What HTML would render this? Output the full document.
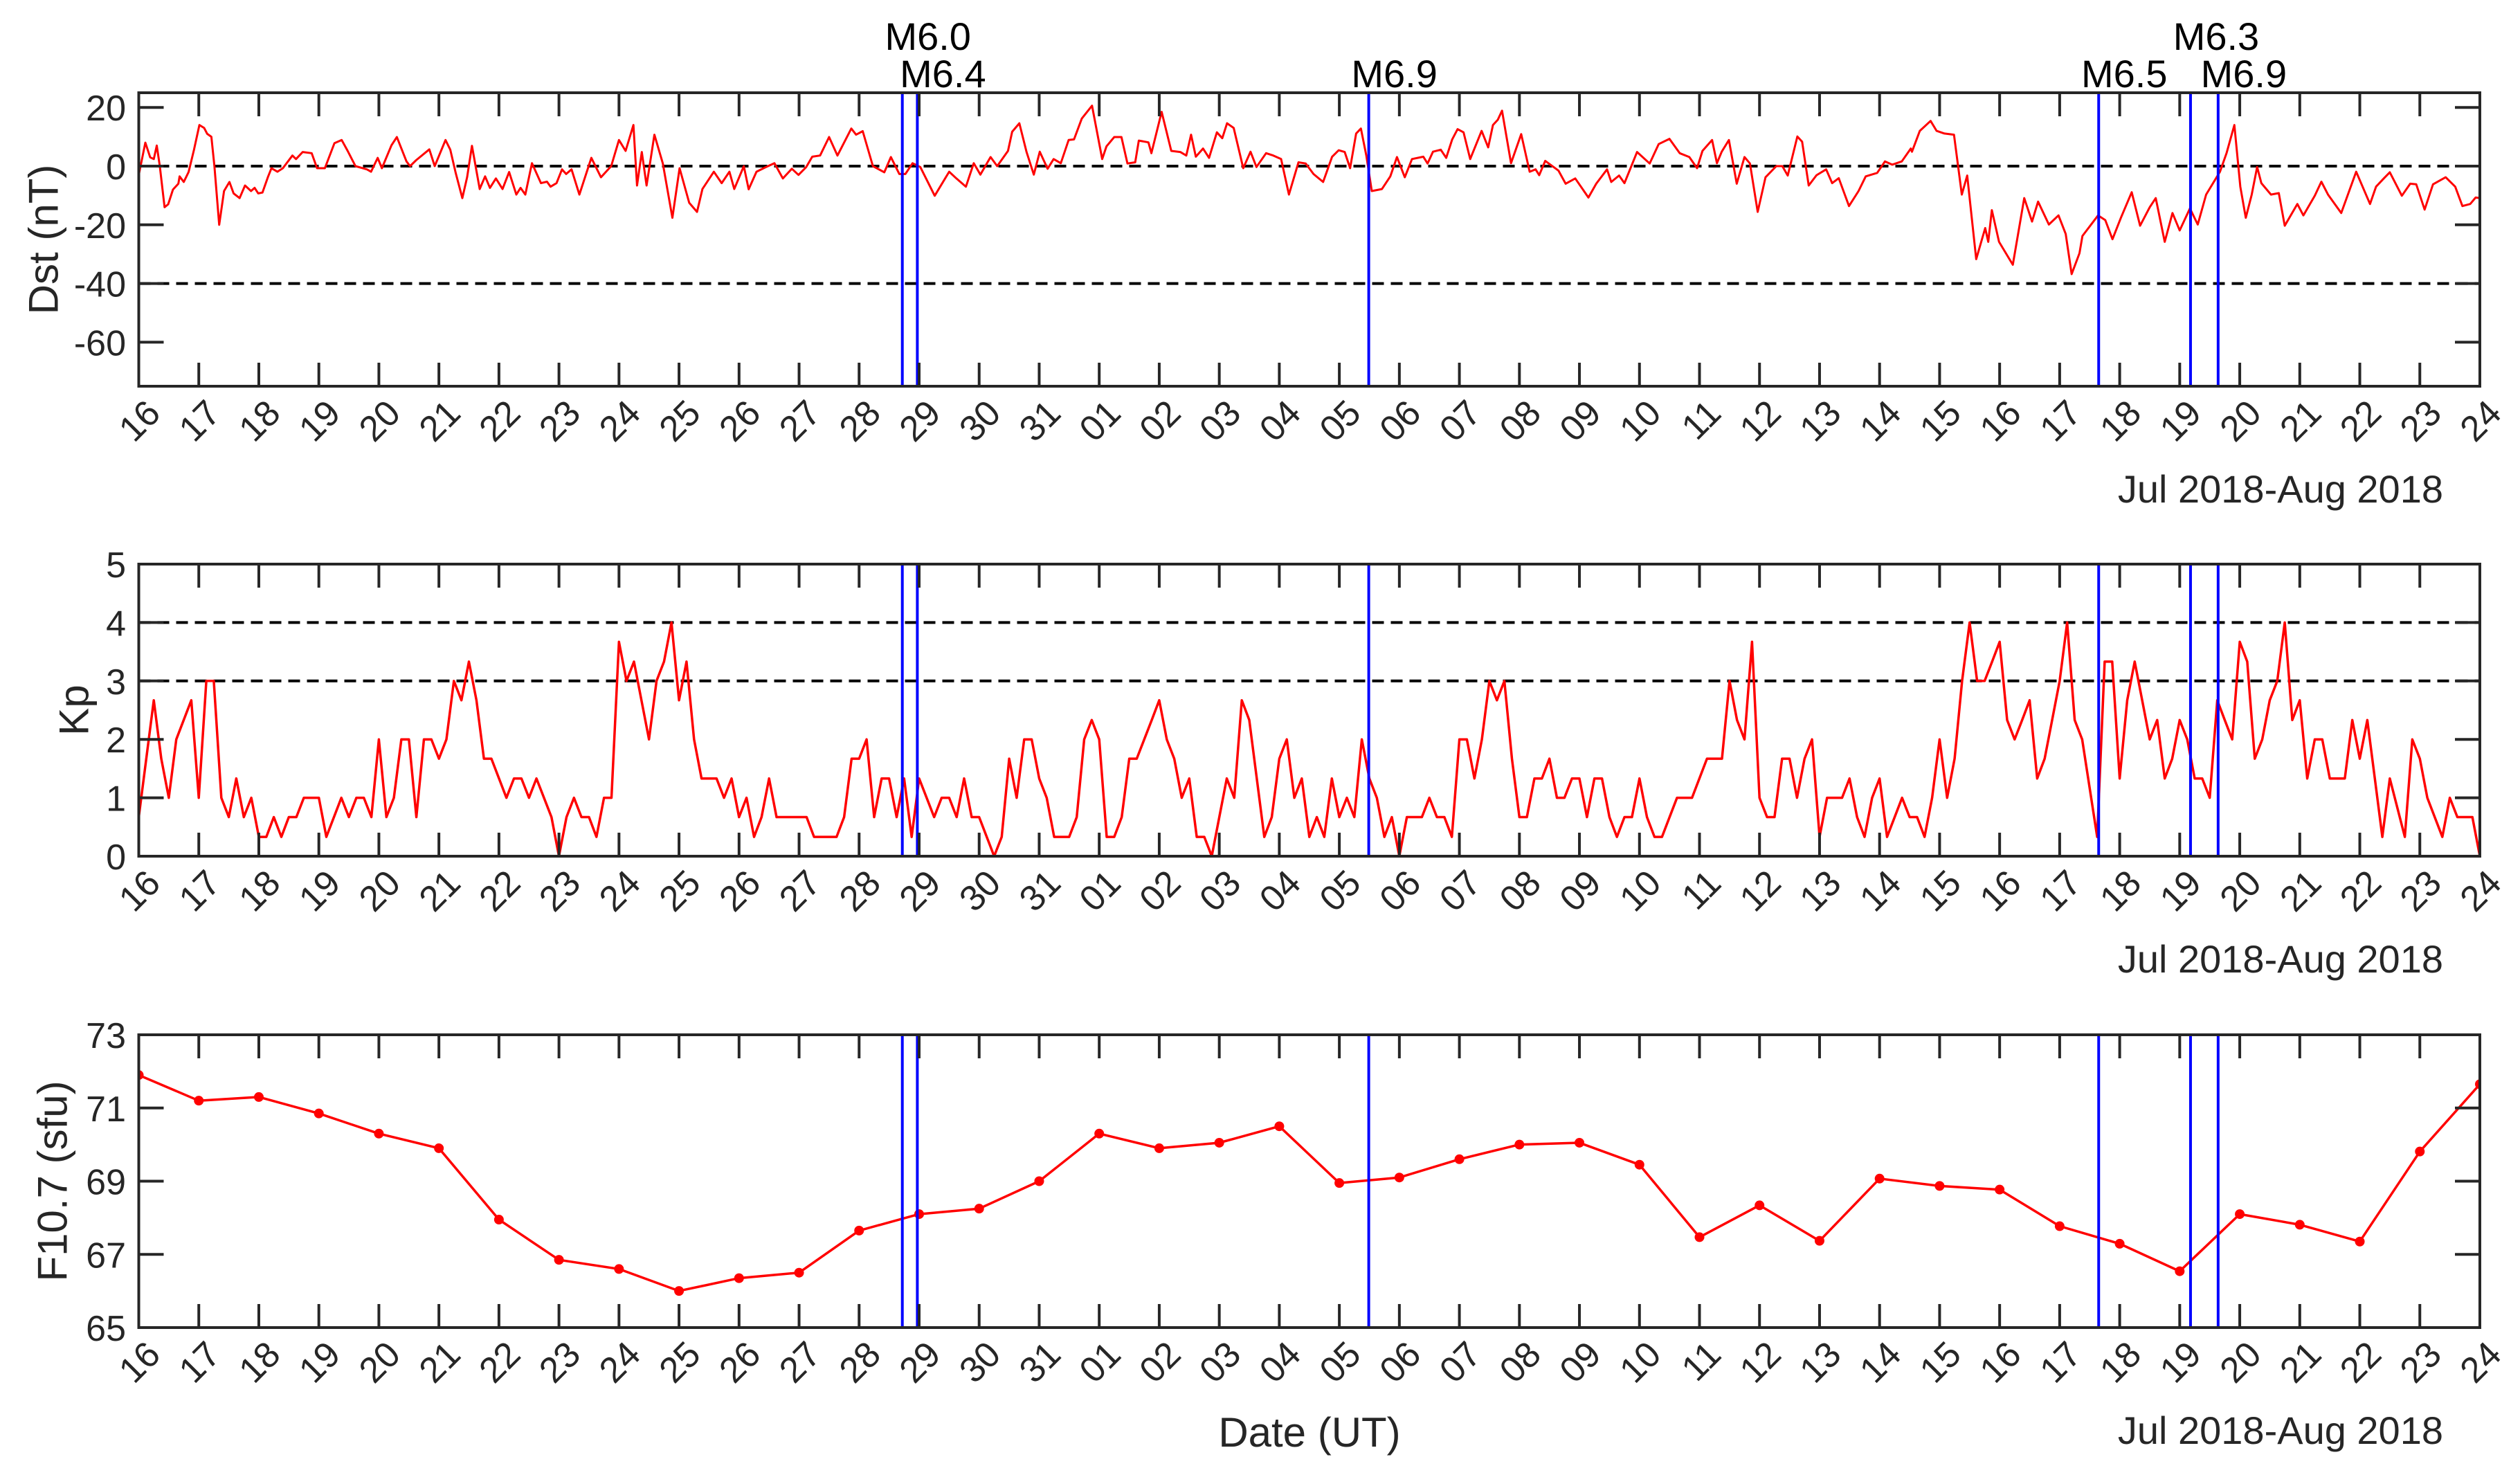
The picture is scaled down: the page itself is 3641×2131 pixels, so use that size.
<!DOCTYPE html>
<html>
<head>
<meta charset="utf-8">
<style>
html,body{margin:0;padding:0;background:#fff;}
svg{display:block;}
text{font-family:"Liberation Sans",Arial,sans-serif;}
</style>
</head>
<body>
<svg id="fig" xmlns="http://www.w3.org/2000/svg" width="3641" height="2131" viewBox="0 0 3641 2131"></svg>
<script>
// ---------- data ----------
const dayLabels = ["16","17","18","19","20","21","22","23","24","25","26","27","28","29","30","31",
  "01","02","03","04","05","06","07","08","09","10","11","12","13","14","15","16","17","18","19","20","21","22","23","24"];

const dstTicks = [20,0,-20,-40,-60];
const kpTicks = [0,1,2,3,4,5];
const f107Ticks = [65,67,69,71,73];

const eventT = [12.72, 12.97, 20.49, 32.65, 34.18, 34.64];
const eventLabels = ["M6.0","M6.4","M6.9","M6.5","M6.3","M6.9"];
const eventRows = [0,1,1,1,0,1];

const dstT = [0,.11,.19,.25,.30,.35,.43,.49,.57,.66,.68,.75,.83,.92,1.01,1.09,1.14,1.21,1.26,1.34,1.42,1.51,1.58,1.68,1.77,1.87,1.93,1.99,2.06,2.15,2.21,2.31,2.40,2.56,2.62,2.73,2.88,2.97,3.10,3.26,3.38,3.48,3.61,3.80,3.87,3.98,4.05,4.21,4.30,4.46,4.52,4.62,4.84,4.93,5.11,5.19,5.28,5.39,5.47,5.55,5.68,5.77,5.85,5.95,6.06,6.17,6.29,6.36,6.44,6.55,6.70,6.80,6.86,6.96,7.05,7.12,7.21,7.34,7.54,7.70,7.87,8.00,8.11,8.24,8.30,8.38,8.46,8.59,8.73,8.89,9.01,9.17,9.30,9.39,9.58,9.71,9.84,9.92,
10.08,10.16,10.29,10.43,10.59,10.73,10.88,10.99,11.12,11.22,11.35,11.50,11.64,11.87,11.95,12.06,12.23,12.42,12.53,12.67,12.77,12.89,13.02,13.26,13.50,13.62,13.78,13.91,14.02,14.19,14.30,14.48,14.55,14.67,14.79,14.91,15.01,15.14,15.24,15.36,15.49,15.58,15.71,15.88,16.05,16.12,16.25,16.37,16.47,16.60,16.66,16.82,16.87,17.04,17.20,17.35,17.45,17.53,17.61,17.73,17.83,17.96,18.05,18.13,18.24,18.40,18.52,18.62,18.78,18.90,19.03,19.16,19.32,19.44,19.57,
19.73,19.88,19.99,20.09,20.18,20.28,20.36,20.45,20.54,20.71,20.85,20.96,21.09,21.21,21.40,21.47,21.56,21.69,21.78,21.88,21.97,22.07,22.18,22.37,22.48,22.56,22.64,22.71,22.86,23.03,23.17,23.27,23.33,23.43,23.65,23.77,23.93,24.15,24.28,24.46,24.53,24.66,24.75,24.96,25.17,25.32,25.50,25.67,25.83,25.96,26.05,26.21,26.29,26.37,26.49,26.62,26.75,26.84,26.97,27.10,27.28,27.38,27.47,27.63,27.71,27.82,27.95,28.11,28.21,28.32,28.49,28.65,28.77,28.96,29.09,29.21,29.37,29.52,
29.54,29.67,29.85,29.95,30.08,30.24,30.37,30.46,30.61,30.76,30.81,30.87,30.99,31.22,31.41,31.54,31.64,31.82,31.98,32.10,32.20,32.33,32.38,32.64,32.76,32.88,33.02,33.20,33.34,33.50,33.60,33.75,33.88,34.00,34.17,34.30,34.44,34.67,34.78,34.91,35.01,35.10,35.20,35.29,35.36,35.52,35.65,35.75,35.96,36.06,36.25,36.36,36.47,36.69,36.94,37.17,37.27,37.40,37.50,37.70,37.84,37.94,38.08,38.22,38.43,38.59,38.71,38.84,38.93,39.0];
const dstV = [-3,8,3,2.4,7,0,-14,-13,-8,-6,-3.5,-5.4,-2,5.6,14,13,11,10,0,-20,-8.5,-5.4,-9.3,-10.9,-6.6,-8.5,-7.4,-9.3,-9,-3.8,-0.7,-1.9,-0.7,3.6,2.4,4.8,4.4,-0.7,-0.7,7.8,8.9,5.2,0,-1.1,-1.9,2.8,-0.7,7.1,9.9,1.6,0,2,5.7,0,8.9,5.6,-2.3,-10.9,-3.8,6.9,-7.8,-3.5,-7.4,-4.2,-7.8,-2,-9.7,-7.4,-9.7,1,-5.8,-5.3,-7,-5.8,-1.1,-2.7,-1.1,-9.7,2.8,-3.8,0,8.9,5.2,14,-6.6,4.8,-6.6,10.7,0.9,-17.6,-0.7,-12.5,-15.6,-7.8,-1.9,-5.8,-1.9,-7.8,
0,-7.9,-1.9,-0.5,1,-4.2,-0.9,-3,-0.3,3.2,3.6,9.9,3.6,12.8,10.7,11.9,0,-2.1,3.1,-2.7,-2.7,1,-0.3,-10.1,-1.9,-4.2,-7,1,-2.9,3.1,0,5.2,11.7,14.6,4.8,-2.9,4.9,-0.9,2.4,1,8.9,9.1,16.2,20.6,2.4,6.7,9.9,9.9,0.9,1.3,8.7,8.1,4.4,18.5,5.2,4.8,3.6,10.7,3.2,6,2.8,11.5,9.5,14.6,13,-0.7,4.9,-0.3,4.4,3.6,2.4,-9.7,1.3,0.9,-2.7,
-5.4,3.2,5.4,4.8,-0.7,11.1,12.8,3.6,-8.5,-7.8,-3.5,3.1,-3.8,2.4,3.2,0.9,4.9,5.6,2.8,9.1,12.6,11.5,2.4,12,6.4,14,15.8,18.9,1,10.9,-1.9,-1.1,-3.1,1.8,-1.5,-6,-4.2,-10.7,-6,-1.1,-5.4,-3.2,-5.8,4.8,0.9,7.5,9.3,4.4,3.1,-0.7,5.2,8.9,1,4.9,8.9,-6,3.1,0.9,-15.6,-3.8,0,0,-3.2,10.1,8.3,-6.6,-3.1,-1.1,-5.8,-4.1,-13.6,-8.5,-3.5,-2.3,1.6,0.5,1.6,6,
4.9,12,15.4,12,11.1,10.7,-9.7,-3.2,-31.7,-21.1,-25.8,-15,-25.8,-33.6,-10.9,-18.9,-12.1,-19.9,-16.8,-23.1,-36.8,-29.7,-23.8,-16.8,-18.4,-24.9,-17.6,-8.9,-20.3,-14,-10.9,-25.8,-16,-21.9,-14.4,-19.9,-9.7,-1.9,4.4,14,-7,-17.6,-9.7,-0.3,-5.8,-9.7,-9.2,-20.3,-12.9,-16.8,-10.1,-5.3,-9.7,-16,-1.9,-12.9,-7,-4.2,-2.1,-10.1,-6,-6.2,-14.8,-6.2,-3.8,-7,-13.6,-12.9,-10.7,-10.9];

const kpT = [0,.25,.375,.5,.625,.875,1,1.125,1.25,1.375,1.5,1.625,1.75,1.875,2,2.125,2.25,2.375,2.5,2.625,2.75,3,3.125,3.375,3.5,3.625,3.75,3.875,4,4.125,4.25,4.375,4.5,4.625,4.75,4.875,5,5.125,5.25,5.375,5.5,5.625,5.75,5.875,6.125,6.25,6.375,6.5,6.625,6.875,7,7.125,7.25,7.375,7.5,7.625,7.75,7.875,8,8.125,8.25,8.5,8.625,8.75,8.875,9,9.125,9.25,9.375,9.625,9.75,9.875,
10,10.125,10.25,10.375,10.5,10.625,11.125,11.25,11.625,11.75,11.875,12,12.125,12.25,12.375,12.5,12.625,12.75,12.875,13,13.25,13.375,13.5,13.625,13.75,13.875,14,14.25,14.375,14.5,14.625,14.75,14.875,15,15.125,15.25,15.5,15.625,15.75,15.875,16,16.125,16.25,16.375,16.5,16.625,16.875,17,17.125,17.25,17.375,17.5,17.625,17.75,17.875,18,18.125,18.25,18.375,18.5,18.75,18.875,19,19.125,19.25,19.375,19.5,19.625,19.75,
19.875,20,20.125,20.25,20.375,20.5,20.625,20.75,20.875,21,21.125,21.375,21.5,21.625,21.75,21.875,22,22.125,22.25,22.375,22.5,22.625,22.75,22.875,23,23.125,23.25,23.375,23.5,23.625,23.75,23.875,24,24.125,24.25,24.375,24.5,24.625,24.75,24.875,25,25.125,25.25,25.375,25.625,25.875,26.125,26.375,26.5,26.625,26.75,26.875,27,27.125,27.25,27.375,27.5,27.625,27.75,27.875,28,28.125,28.375,28.5,28.625,28.75,28.875,29,29.125,29.375,
29.5,29.625,29.75,29.875,30,30.125,30.25,30.375,30.5,30.625,30.75,30.875,31,31.125,31.25,31.375,31.5,31.625,31.75,31.875,32,32.125,32.25,32.375,32.625,32.75,32.875,33,33.125,33.25,33.375,33.5,33.625,33.75,33.875,34,34.125,34.25,34.375,34.5,34.625,34.75,34.875,35,35.125,35.25,35.375,35.5,35.625,35.75,35.875,36,36.125,36.25,36.375,36.5,36.75,36.875,37,37.125,37.375,37.5,37.75,37.875,38,38.125,38.375,38.5,38.625,38.875,39];
const kpV = [.67,2.67,1.67,1,2,2.67,1,3,3,1,.67,1.33,.67,1,.33,.33,.67,.33,.67,.67,1,1,.33,1,.67,1,1,.67,2,.67,1,2,2,.67,2,2,1.67,2,3,2.67,3.33,2.67,1.67,1.67,1,1.33,1.33,1,1.33,.67,0,.67,1,.67,.67,.33,1,1,3.67,3,3.33,2,3,3.33,4,2.67,3.33,2,1.33,1.33,1,1.33,
.67,1,.33,.67,1.33,.67,.67,.33,.33,.67,1.67,1.67,2,.67,1.33,1.33,.67,1.33,.33,1.33,.67,1,1,.67,1.33,.67,.67,0,.33,1.67,1,2,2,1.33,1,.33,.33,.67,2,2.33,2,.33,.33,.67,1.67,1.67,2.33,2.67,2,1.67,1,1.33,.33,.33,0,.67,1.33,1,2.67,2.33,.33,.67,1.67,2,1,1.33,.33,.67,.33,
1.33,.67,1,.67,2,1.33,1,.33,.67,0,.67,.67,1,.67,.67,.33,2,2,1.33,2,3,2.67,3,1.67,.67,.67,1.33,1.33,1.67,1,1,1.33,1.33,.67,1.33,1.33,.67,.33,.67,.67,1.33,.67,.33,.33,1,1,1.67,1.67,3,2.33,2,3.67,1,.67,.67,1.67,1.67,1,1.67,2,.33,1,1,1.33,.67,.33,1,1.33,.33,1,
.67,.67,.33,1,2,1,1.67,3,4,3,3,3.33,3.67,2.33,2,2.33,2.67,1.33,1.67,2.33,3,4,2.33,2,.33,3.33,3.33,1.33,2.67,3.33,2.67,2,2.33,1.33,1.67,2.33,2,1.33,1.33,1,2.67,2.33,2,3.67,3.33,1.67,2,2.67,3,4,2.33,2.67,1.33,2,2,1.33,1.33,2.33,1.67,2.33,.33,1.33,.33,2,1.67,1,.33,1,.67,.67,0];

const f107V = [71.9,71.2,71.3,70.85,70.3,69.9,67.95,66.85,66.6,66.0,66.35,66.5,67.65,68.1,68.25,69.0,70.3,69.9,70.05,70.5,68.95,69.1,69.6,70.0,70.05,69.45,67.47,68.34,67.37,69.07,68.87,68.77,67.77,67.29,66.54,68.1,67.81,67.35,69.81,71.65];

// ---------- layout ----------
const NS = "http://www.w3.org/2000/svg";
const svg = document.getElementById('fig');
const X0 = 200.5, X1 = 3583, NDAYS = 39;
const INK = "#262626";
function xs(t){ return X0 + (X1 - X0) * t / NDAYS; }
function mk(tag, attrs, parent){
  const e = document.createElementNS(NS, tag);
  for (const k in attrs) e.setAttribute(k, attrs[k]);
  (parent || svg).appendChild(e);
  return e;
}
const panels = [
  {name:"dst", top:134, bottom:558, min:-75, max:25, ticks:dstTicks, label:"Dst (nT)", labelX:63, dashes:[0,-40]},
  {name:"kp", top:815, bottom:1237, min:0, max:5, ticks:kpTicks, label:"Kp", labelX:107, dashes:[3,4]},
  {name:"f107", top:1495, bottom:1918, min:65, max:73, ticks:f107Ticks, label:"F10.7 (sfu)", labelX:76, dashes:[]}
];
panels.forEach(p => { p.ys = v => p.bottom - (v - p.min) / (p.max - p.min) * (p.bottom - p.top); });

const defs = mk('defs', {});
panels.forEach(p => {
  const cp = mk('clipPath', {id:'clip-' + p.name}, defs);
  mk('rect', {x:X0, y:p.top, width:X1 - X0, height:p.bottom - p.top}, cp);
});

panels.forEach((p, pi) => {
  const g = mk('g', {});
  
  

  // dashed reference lines
  p.dashes.forEach(v => {
    const l = mk('line', {x1:X0, x2:X1, y1:p.ys(v), y2:p.ys(v), stroke:"#000", 'stroke-width':4, 'stroke-dasharray':'17 10'}, g);
    
    
  });

  // series
  const sg = mk('g', {'clip-path':'url(#clip-' + p.name + ')'}, g);
  let pts = [];
  if (p.name === 'dst') pts = dstT.map((t, i) => [xs(t), p.ys(dstV[i])]);
  if (p.name === 'kp') pts = kpT.map((t, i) => [xs(t), p.ys(kpV[i])]);
  if (p.name === 'f107') pts = f107V.map((v, i) => [xs(i), p.ys(v)]);
  const line = mk('polyline', {points: pts.map(q => q[0].toFixed(1) + ',' + q[1].toFixed(1)).join(' '), fill:'none', stroke:'#ff0000', 'stroke-width': p.name === 'dst' ? 3 : 3.5, 'stroke-linejoin':'round'}, sg);
  
  
  if (p.name === 'f107') {
    pts.forEach(q => {
      const c = mk('circle', {cx:q[0], cy:q[1], r:7, fill:'#ff0000'}, sg);
      
      
    });
  }

  // event lines
  eventT.forEach((t, i) => {
    const l = mk('line', {x1:xs(t), x2:xs(t), y1:p.top, y2:p.bottom, stroke:'#0000ff', 'stroke-width':4}, g);
    
    
  });

  // axes box
  const box = mk('rect', {x:X0, y:p.top, width:X1 - X0, height:p.bottom - p.top, fill:'none', stroke:INK, 'stroke-width':4}, g);
  
  

  // x ticks + labels
  dayLabels.forEach((lab, i) => {
    const x = xs(i);
    if (i > 0 && i < NDAYS) {
      mk('line', {x1:x, x2:x, y1:p.top, y2:p.top + 34, stroke:INK, 'stroke-width':4}, g);
      mk('line', {x1:x, x2:x, y1:p.bottom, y2:p.bottom - 34, stroke:INK, 'stroke-width':4}, g);
    }
    const ex = x + 34, ey = p.bottom + 42;
    const tx = mk('text', {x:ex, y:ey, 'text-anchor':'end', 'font-size':52, fill:INK, transform:'rotate(-45 ' + ex + ' ' + ey + ')'}, g);
    tx.textContent = lab;
    
    
  });

  // y ticks + labels
  p.ticks.forEach(v => {
    const y = p.ys(v);
    if (v !== p.min && v !== p.max) {
      mk('line', {x1:X0, x2:X0 + 36, y1:y, y2:y, stroke:INK, 'stroke-width':4}, g);
      mk('line', {x1:X1, x2:X1 - 36, y1:y, y2:y, stroke:INK, 'stroke-width':4}, g);
    }
    const tx = mk('text', {x:182, y:y + 19, 'text-anchor':'end', 'font-size':52, fill:INK}, g);
    tx.textContent = String(v);
    
    
  });

  // y-axis title
  const cy = (p.top + p.bottom) / 2;
  const yl = mk('text', {x:p.labelX, y:cy, 'text-anchor':'middle', 'dominant-baseline':'central', 'font-size':60, fill:INK, transform:'rotate(-90 ' + p.labelX + ' ' + cy + ')'}, g);
  yl.textContent = p.label;
  
  

  // date range label
  const dr = mk('text', {x:3530, y:p.bottom + 168, 'text-anchor':'end', 'font-size':56, fill:INK}, g);
  dr.textContent = 'Jul 2018-Aug 2018';
  
  
});

// earthquake labels
eventT.forEach((t, i) => {
  const tx = mk('text', {x:xs(t) + 37, y: eventRows[i] === 0 ? 72 : 126, 'text-anchor':'middle', 'font-size':56, fill:'#000'});
  tx.textContent = eventLabels[i];
  
  
});

// x-axis title
const xt = mk('text', {x:1892, y:2090, 'text-anchor':'middle', 'font-size':60, fill:INK});
xt.textContent = 'Date (UT)';


</script>
</body>
</html>
